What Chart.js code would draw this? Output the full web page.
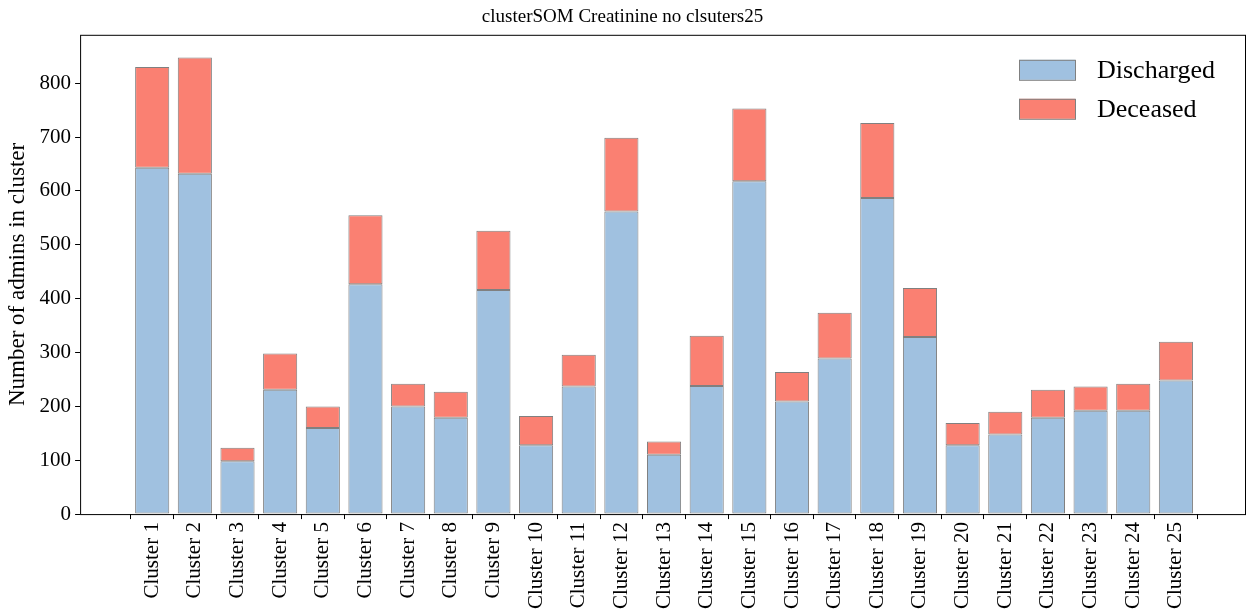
<!DOCTYPE html>
<html>
<head>
<meta charset="utf-8">
<script src="https://cdn.jsdelivr.net/npm/chart.js@4/dist/chart.umd.min.js"></script>
<style>
  html, body { margin: 0; padding: 0; background: #fff; }
  #wrap { width: 1257px; height: 612px; }
</style>
</head>
<body>
<div id="wrap"><canvas id="c"></canvas></div>
<script>
// values
const clusters = Array.from({ length: 25 }, (_, i) => 'Cluster ' + (i + 1));
const totals = [830, 848, 123, 298, 200, 555, 242, 227, 526, 182, 296, 699, 135, 331, 753, 264, 374, 726, 420, 169, 190, 231, 237, 242, 320];
const discharged = [643, 632, 98, 231, 160, 427, 200, 179, 416, 128, 237, 562, 110, 238, 618, 209, 289, 587, 329, 128, 148, 179, 192, 192, 248];
const deceased = totals.map((t, i) => t - discharged[i]);
const yTicks = [0, 100, 200, 300, 400, 500, 600, 700, 800];

const FONT = "'Liberation Serif', 'DejaVu Serif', serif";

const frame = {
  id: 'frame',
  afterDraw(chart) {
    const { ctx, chartArea: a } = chart;
    ctx.save();
    ctx.strokeStyle = '#000';
    ctx.lineWidth = 1;
    ctx.strokeRect(a.left + 0.5, a.top + 0.5, a.right - a.left, a.bottom - a.top);
    // legend inside upper right
    const items = chart.data.datasets;
    ctx.font = '26px ' + FONT;
    ctx.textBaseline = 'middle';
    items.forEach((ds, i) => {
      const y = a.top + 35 + i * 39;
      const x = a.right - 226;
      ctx.fillStyle = ds.backgroundColor;
      ctx.fillRect(x, y - 10, 56, 20);
      ctx.strokeStyle = '#808080';
      ctx.strokeRect(x + 0.5, y - 9.5, 56, 20);
      ctx.fillStyle = '#000';
      ctx.fillText(ds.label, x + 78, y + 1);
    });
    ctx.restore();
  }
};

const toPoints = arr => arr.map((v, i) => ({ x: i + 1, y: v }));

new Chart(document.getElementById('c'), {
  type: 'bar',
  data: {
    datasets: [
      { label: 'Discharged', data: toPoints(discharged), backgroundColor: '#a0c1e0', borderColor: '#808080', borderWidth: 1 },
      { label: 'Deceased', data: toPoints(deceased), backgroundColor: '#fa8072', borderColor: '#808080', borderWidth: 1 }
    ]
  },
  options: {
    responsive: true,
    maintainAspectRatio: false,
    animation: false,
    layout: { padding: { right: 12, top: 0 } },
    datasets: { bar: { barPercentage: 0.8, categoryPercentage: 1, borderSkipped: false } },
    plugins: {
      legend: { display: false },
      tooltip: { enabled: false },
      title: { display: true, text: 'clusterSOM Creatinine no clsuters25', color: '#000', font: { family: FONT, size: 19, weight: 'normal' }, padding: { top: 6, bottom: 6 } }
    },
    scales: {
      x: {
        type: 'linear', stacked: true, min: -0.69, max: 26.62, offset: false,
        afterBuildTicks: s => { s.ticks = clusters.map((_, i) => ({ value: i + 1 })); },
        grid: { drawOnChartArea: false, color: '#000', tickLength: 5 },
        border: { display: false },
        ticks: {
          autoSkip: false, maxRotation: 90, minRotation: 90, color: '#000',
          font: { family: FONT, size: 21 },
          callback: v => clusters[v - 1] || ''
        }
      },
      y: {
        stacked: true, min: 0, max: 890,
        afterBuildTicks: s => { s.ticks = yTicks.map(v => ({ value: v })); },
        grid: { drawOnChartArea: false, color: '#000', tickLength: 5 },
        border: { display: false },
        ticks: { color: '#000', font: { family: FONT, size: 21 }, padding: 4 },
        title: { display: true, text: 'Number of admins in cluster', color: '#000', font: { family: FONT, size: 23 }, padding: { bottom: 4 } }
      }
    }
  },
  plugins: [frame]
});
</script>
</body>
</html>
